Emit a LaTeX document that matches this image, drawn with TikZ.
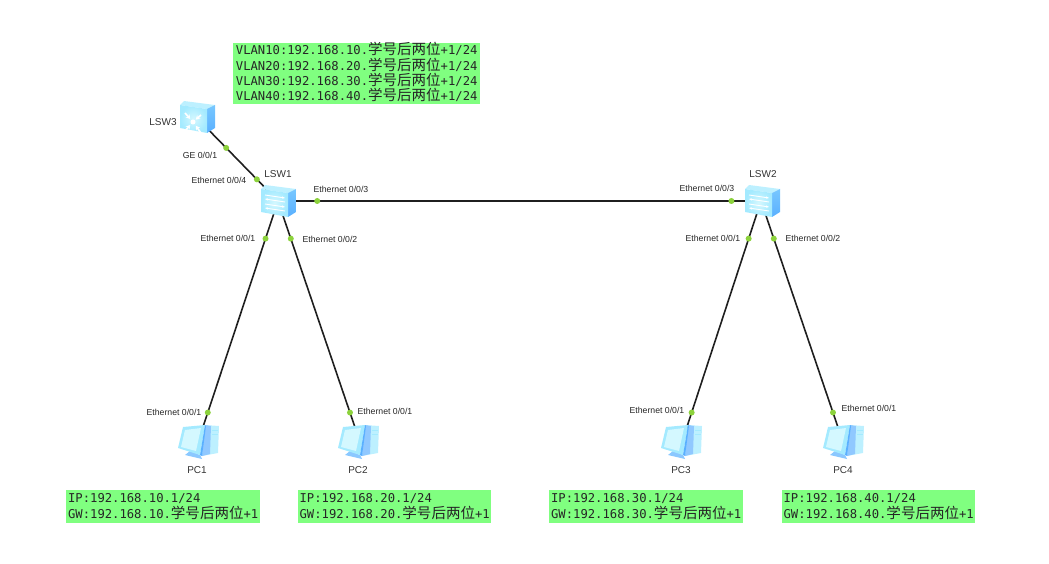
\documentclass[tikz,border=0pt]{standalone}
\usepackage{fontspec}
\setmainfont{Liberation Sans}
\setmonofont{DejaVu Sans Mono}
\newfontfamily\cjk[Scale=1.19]{Noto Sans CJK SC}
\usetikzlibrary{arrows.meta}
\definecolor{ensgGreen}{HTML}{80FF80}
\definecolor{portGreen}{HTML}{8CD23C}
\definecolor{devLight}{HTML}{D4F8FF}
\definecolor{devCyan}{HTML}{A4EAFF}
\definecolor{devBlue}{HTML}{5AB0FF}
\definecolor{devMid}{HTML}{BDF0FF}
\definecolor{devTower}{HTML}{90C8FF}
\newcommand{\xuehao}{{\cjk 学号后两位}}
\newcommand{\boxstrut}{\rule[-1pt]{0pt}{1pt}}
\tikzset{
  anchorpt/.style={inner sep=0pt, minimum size=1pt},
  link/.style={draw=black!88, line width=1.6pt},
  portdot/.style={circle, fill=portGreen, inner sep=0pt, minimum size=6pt},
  portlabel/.style={font=\fontsize{8.7}{10}\selectfont, text=black!85, inner sep=0pt},
  devlabel/.style={font=\fontsize{10}{12}\selectfont, text=black!80, inner sep=0pt},
  infobox/.style={fill=ensgGreen, anchor=north west, align=left, inner sep=0pt, inner xsep=.4pt,
    font=\ttfamily\fontsize{12.2}{15.3}\selectfont, text=black!85},
  swarrow/.style={white, line width=.9pt, -{Stealth[length=3pt]}},
  corearrow/.style={white, line width=1.6pt, -{Stealth[length=4pt, width=5pt]}},
  pics/swbody/.style={code={
    \fill[devMid] (-17,-14) -- (-13,-18) -- (18,-14) -- (10,-10) -- cycle;
    \shade[top color=devBlue!60!devCyan, bottom color=devBlue] (10,-10) -- (18,-14) -- (18,9) -- (10,14) -- cycle;
    \shade[inner color=devLight, outer color=devCyan] (-17,-14) -- (10,-10) -- (10,14) -- (-17,9) -- cycle;
  }},
  pics/pcicon/.style={code={
    \fill[devMid] (7,-17) -- (21,-16) -- (20,11) -- (4,14) -- cycle;
    \fill[devTower] (7,-17) -- (13,-16) -- (12,12) -- (4,14) -- cycle;
    \draw[devCyan, line width=.6pt] (14,-12) -- (20,-12) (14,-8) -- (20,-8);
    \fill[devBlue!70] (-13,13) -- (-8,9) -- (2,13) -- (4,17) -- cycle;
    \fill[devCyan] (-20,6) -- (-15,-15) -- (7,-17) -- (2,13) -- cycle;
    \fill[devLight] (-17,5) -- (-13,-12) -- (3,-14) -- (-2,9) -- cycle;
    \fill[devBlue] (7,-17) -- (8,-16) -- (4,14) -- (2,13) -- cycle;
  }}
}
\begin{document}
\begin{tikzpicture}[x=1pt, y=-1pt]
  \useasboundingbox (0,0) rectangle (1049,564);

  \node[anchorpt] (lsw3) at (198,119) {};
  \node[anchorpt] (lsw1) at (278,201) {};
  \node[anchorpt] (lsw2) at (761,201) {};
  \node[anchorpt] (pc1) at (198,442) {};
  \node[anchorpt] (pc2) at (360,442) {};
  \node[anchorpt] (pc3) at (682,442) {};
  \node[anchorpt] (pc4) at (843,442) {};

  \draw[link] (lsw3) -- node[portdot, pos=.35] (p31) {} node[portdot, pos=.74] (p14) {} (lsw1);
  \draw[link] (lsw1) -- node[portdot, pos=.08] (p13) {} node[portdot, pos=.94] (p23) {} (lsw2);
  \draw[link] (lsw1) -- node[portdot, pos=.154] (p11) {} node[portdot, pos=.88] (pa1) {} (pc1);
  \draw[link] (lsw1) -- node[portdot, pos=.154] (p12) {} node[portdot, pos=.88] (pb1) {} (pc2);
  \draw[link] (lsw2) -- node[portdot, pos=.154] (p21) {} node[portdot, pos=.88] (pc31) {} (pc3);
  \draw[link] (lsw2) -- node[portdot, pos=.154] (p22) {} node[portdot, pos=.88] (pd1) {} (pc4);

  \pic at (197,119) {swbody};
  \pic at (278,203) {swbody};
  \pic at (762,203) {swbody};
  \pic at (198,442) {pcicon};
  \pic at (358,442) {pcicon};
  \pic at (681,442) {pcicon};
  \pic at (843,442) {pcicon};

  \foreach \cx/\cy in {278/203, 762/203} {
    \draw[swarrow] (\cx-13,\cy-8) -- (\cx+7,\cy-5);
    \draw[swarrow] (\cx+7,\cy-1) -- (\cx-13,\cy-4);
    \draw[swarrow] (\cx-13,\cy+1) -- (\cx+7,\cy+4);
    \draw[swarrow] (\cx+7,\cy+8) -- (\cx-13,\cy+5);
  }
  \foreach \dx/\dy in {-8/-9, 8/-7, -8/9, 8/11} {
    \draw[corearrow] (193+\dx,122+\dy) -- (193+.35*\dx,122+.35*\dy);
  }
  \fill[white] (193,122) circle (2.5);

  \node[devlabel] (lsw3label) at (163,122) {LSW3};
  \node[devlabel] (lsw1label) at (278,174) {LSW1};
  \node[devlabel] (lsw2label) at (763,174) {LSW2};
  \node[devlabel] (pc1label) at (197,470) {PC1};
  \node[devlabel] (pc2label) at (358,470) {PC2};
  \node[devlabel] (pc3label) at (681,470) {PC3};
  \node[devlabel] (pc4label) at (843,470) {PC4};

  \node[portlabel] at (200,155) {GE 0/0/1};
  \node[portlabel] at (219,180) {Ethernet 0/0/4};
  \node[portlabel] at (341,189) {Ethernet 0/0/3};
  \node[portlabel] at (228,238.5) {Ethernet 0/0/1};
  \node[portlabel] at (330,239.5) {Ethernet 0/0/2};
  \node[portlabel] at (707,188) {Ethernet 0/0/3};
  \node[portlabel] at (713,238.5) {Ethernet 0/0/1};
  \node[portlabel] at (813,238.5) {Ethernet 0/0/2};
  \node[portlabel] at (174,412) {Ethernet 0/0/1};
  \node[portlabel] at (385,411) {Ethernet 0/0/1};
  \node[portlabel] at (657,410) {Ethernet 0/0/1};
  \node[portlabel] at (869,408) {Ethernet 0/0/1};

  \node[infobox, minimum width=247pt, minimum height=61pt] (vlaninfo) at (233,43) {VLAN10:192.168.10.\smash{\xuehao}+1/24\\VLAN20:192.168.20.\smash{\xuehao}+1/24\\VLAN30:192.168.30.\smash{\xuehao}+1/24\\VLAN40:192.168.40.\smash{\xuehao}+1/24\boxstrut};
  \node[infobox, minimum width=194pt, minimum height=33pt] (pc1info) at (66,490) {IP:192.168.10.1/24\\GW:192.168.10.\xuehao+1};
  \node[infobox, minimum width=193pt, minimum height=33pt] (pc2info) at (298,490) {IP:192.168.20.1/24\\GW:192.168.20.\xuehao+1};
  \node[infobox, minimum width=194pt, minimum height=33pt] (pc3info) at (549,490) {IP:192.168.30.1/24\\GW:192.168.30.\xuehao+1};
  \node[infobox, minimum width=193pt, minimum height=33pt] (pc4info) at (782,490) {IP:192.168.40.1/24\\GW:192.168.40.\xuehao+1};
\end{tikzpicture}
\end{document}
